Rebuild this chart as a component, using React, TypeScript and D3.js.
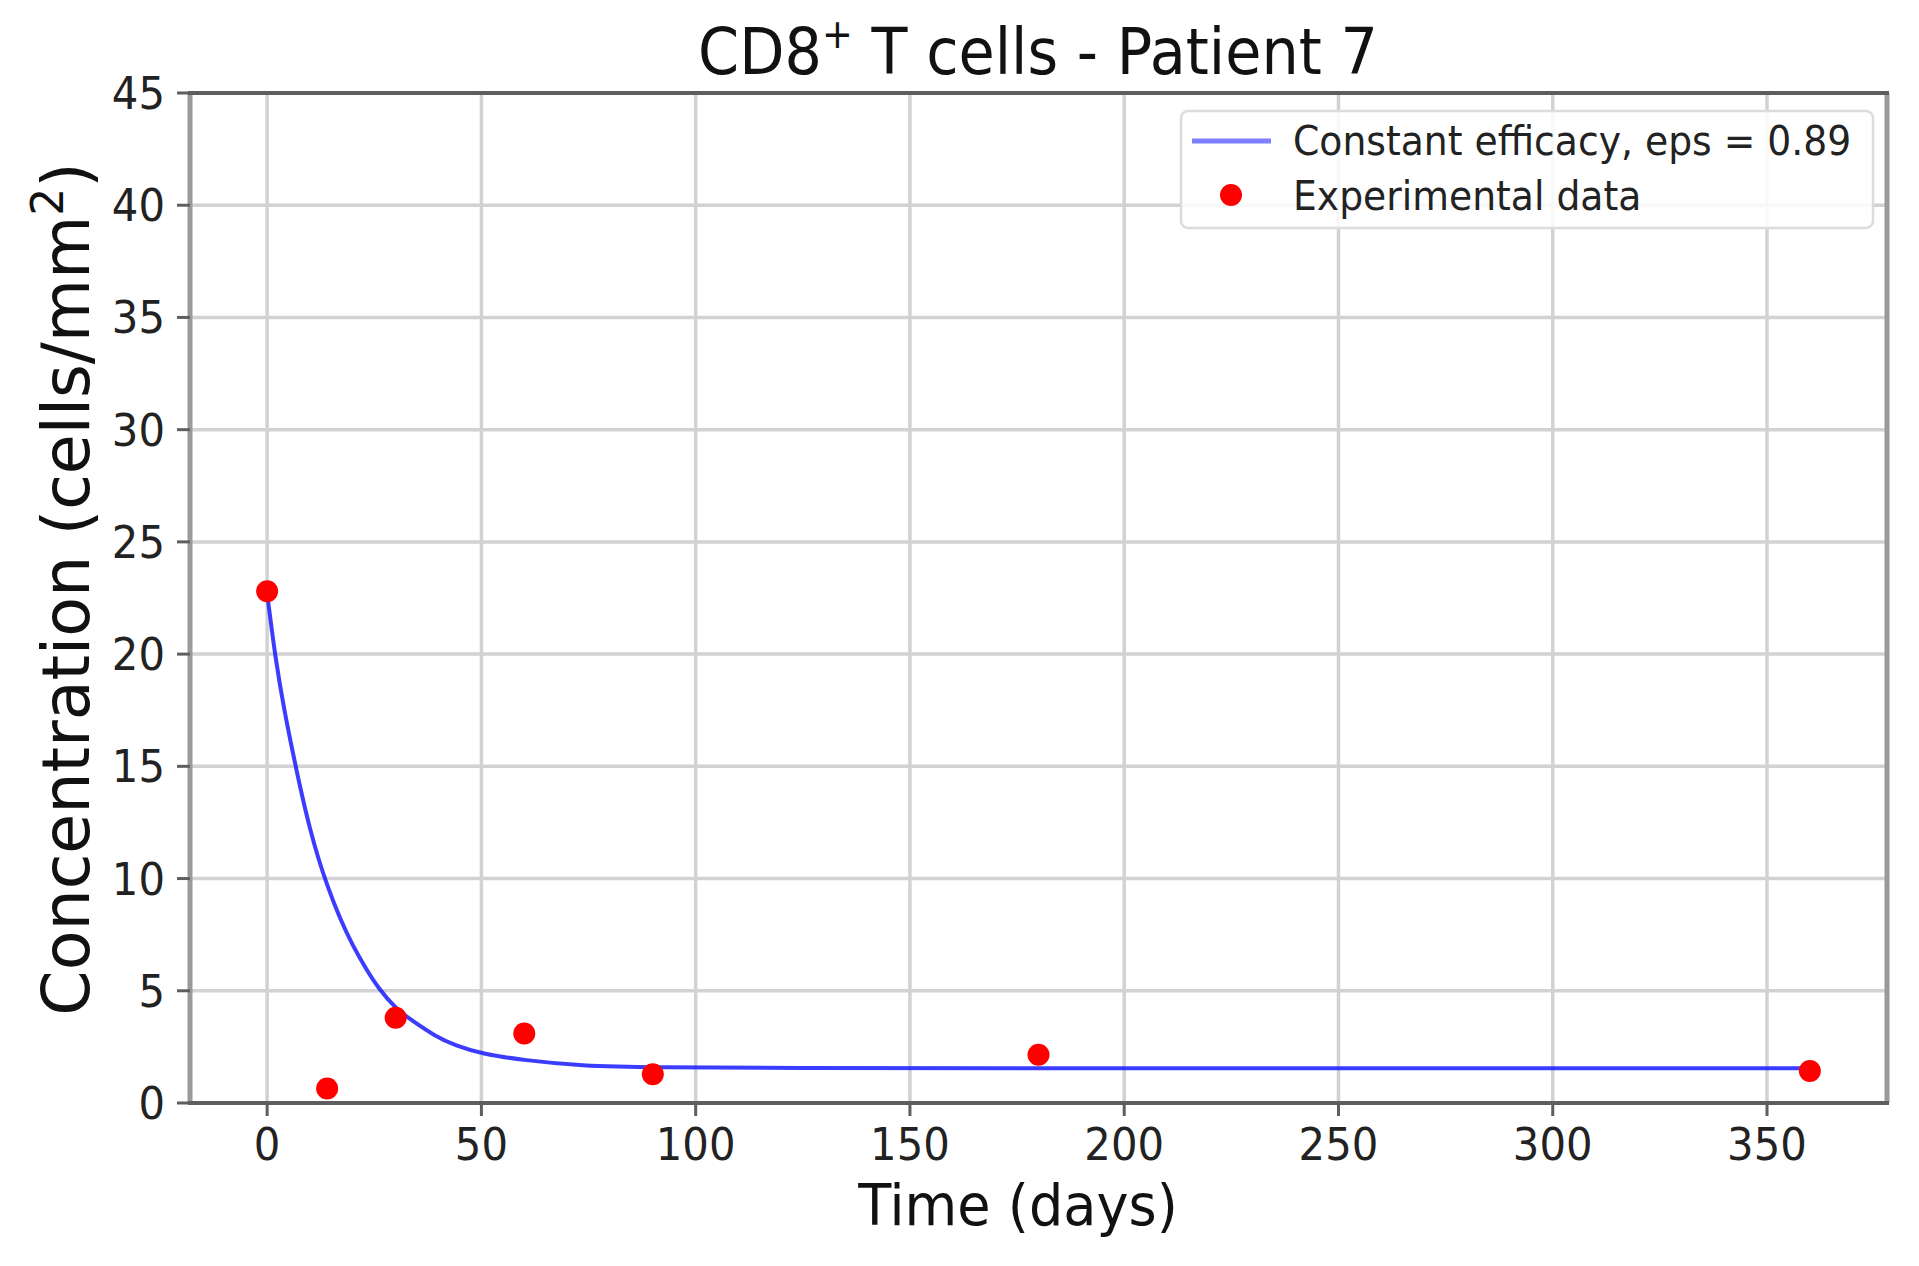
import React from "react";
import * as d3 from "d3";

// fitted model curve
const curveDays = [0, 2, 4, 6, 8, 10, 12, 14, 17, 20, 23, 26, 30, 34, 39, 44, 50, 60, 73, 90, 120, 180, 250, 360];
const curveValues = [22.7, 19.7, 17.5, 15.6, 13.8, 12.2, 10.85, 9.7, 8.2, 7.0, 6.0, 5.1, 4.2, 3.65, 3.0, 2.55, 2.2, 1.9, 1.66, 1.58, 1.56, 1.55, 1.55, 1.55];

// experimental measurements
const dataDays = [0, 14, 30, 60, 90, 180, 360];
const dataValues = [22.8, 0.65, 3.8, 3.1, 1.28, 2.15, 1.43];

const xTicks = [0, 50, 100, 150, 200, 250, 300, 350];
const yTicks = [0, 5, 10, 15, 20, 25, 30, 35, 40, 45];

const legendLabels = ["Constant efficacy, eps = 0.89", "Experimental data"];

const W = 1919;
const H = 1266;
const left = 190;
const right = 1887;
const top = 93;
const bottom = 1103;
const font = "'DejaVu Sans', sans-serif";

const App: React.FC = () => {
  const x = d3.scaleLinear().domain([-18, 378]).range([left, right]);
  const y = d3.scaleLinear().domain([0, 45]).range([bottom, top]);

  const line = d3
    .line<number>()
    .x((d) => x(d))
    .y((_, i) => y(curveValues[i]))
    .curve(d3.curveBasis);

  return (
    <svg
      width={W}
      height={H}
      style={{ position: "absolute", left: 0, top: 0, background: "#fff" }}
      fontFamily={font}
    >
      <rect width={W} height={H} fill="#fff" />

      {/* grid */}
      {xTicks.map((t) => (
        <line key={"gx" + t} x1={x(t)} x2={x(t)} y1={top} y2={bottom} stroke="#d2d2d2" strokeWidth={3.5} />
      ))}
      {yTicks.map((t) => (
        <line key={"gy" + t} x1={left} x2={right} y1={y(t)} y2={y(t)} stroke="#d2d2d2" strokeWidth={3.5} />
      ))}

      {/* fitted curve */}
      <path d={line(curveDays) ?? ""} fill="none" stroke="#1a1aff" strokeWidth={4} strokeOpacity={0.85} />

      {/* data points */}
      {dataDays.map((d, i) => (
        <circle key={"p" + i} cx={x(d)} cy={y(dataValues[i])} r={11} fill="#ff0000" />
      ))}

      {/* spines */}
      <line x1={left} x2={left} y1={top} y2={bottom} stroke="#9a9a9a" strokeWidth={5} />
      <line x1={right} x2={right} y1={top} y2={bottom} stroke="#9a9a9a" strokeWidth={5} />
      <line x1={left - 2} x2={right + 2} y1={top} y2={top} stroke="#5e5e5e" strokeWidth={4} />
      <line x1={left - 2} x2={right + 2} y1={bottom} y2={bottom} stroke="#5e5e5e" strokeWidth={4} />

      {/* x ticks */}
      {xTicks.map((t) => (
        <g key={"xt" + t}>
          <line x1={x(t)} x2={x(t)} y1={bottom} y2={bottom + 13} stroke="#5e5e5e" strokeWidth={3} />
          <text
            transform={`translate(${x(t)},1160) scale(0.95,1)`}
            textAnchor="middle"
            fontSize={44}
            fill="#222"
          >
            {t}
          </text>
        </g>
      ))}

      {/* y ticks */}
      {yTicks.map((t) => (
        <g key={"yt" + t}>
          <line x1={left - 13} x2={left} y1={y(t)} y2={y(t)} stroke="#5e5e5e" strokeWidth={3} />
          <text
            transform={`translate(165,${y(t) + 16}) scale(0.95,1)`}
            textAnchor="end"
            fontSize={44}
            fill="#222"
          >
            {t}
          </text>
        </g>
      ))}

      {/* title */}
      <text transform="translate(1038,74) scale(0.92,1)" textAnchor="middle" fontSize={64} fill="#111">
        CD8
        <tspan fontSize={40} dy={-26}>+</tspan>
        <tspan dy={26}> T cells - Patient 7</tspan>
      </text>

      {/* axis labels */}
      <text transform="translate(1018,1225) scale(0.95,1)" textAnchor="middle" fontSize={57} fill="#111">
        Time (days)
      </text>
      <text transform="translate(89,589) rotate(-90)" textAnchor="middle" fontSize={65} fill="#111">
        Concentration (cells/mm
        <tspan fontSize={44} dy={-26}>2</tspan>
        <tspan dy={26}>)</tspan>
      </text>

      {/* legend */}
      <rect x={1181} y={111} width={692} height={117} rx={7} fill="#fff" fillOpacity={0.85} stroke="#dcdcdc" strokeWidth={2.5} />
      <line x1={1192} x2={1271} y1={141} y2={141} stroke="#2a2aff" strokeWidth={5} strokeOpacity={0.6} />
      <circle cx={1231} cy={195} r={11} fill="#ff0000" />
      {legendLabels.map((l, i) => (
        <text
          key={l}
          transform={`translate(1293,${155 + i * 55}) scale(0.92,1)`}
          fontSize={41}
          fill="#222"
        >
          {l}
        </text>
      ))}
    </svg>
  );
};

export default App;
